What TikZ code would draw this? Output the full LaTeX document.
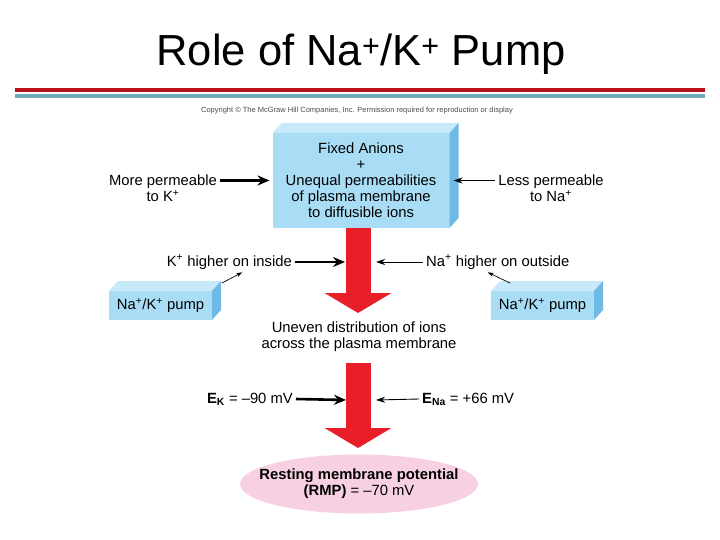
\documentclass[tikz,border=0pt]{standalone}
\usepackage{fontspec}
\setmainfont{Liberation Sans}
\usetikzlibrary{arrows.meta, positioning, calc, shapes.geometric}

\definecolor{boxfront}{RGB}{168,221,245}
\definecolor{boxtop}{RGB}{198,234,250}
\definecolor{boxside}{RGB}{110,186,228}
\definecolor{fatred}{RGB}{232,30,40}
\definecolor{rmppink}{RGB}{247,208,226}
\definecolor{rulered}{RGB}{181,18,27}
\definecolor{ruleteal}{RGB}{111,170,184}

\tikzset{
  txt/.style={font=\fontsize{14.8pt}{16pt}\selectfont, align=center, inner sep=3pt},
  slab/.style={txt, fill=boxfront, outer sep=0pt},
  fat/.style={draw=fatred, line width=25pt, -{Triangle[length=20pt, width=66pt]}},
  thickarr/.style={line width=2.6pt, -{Stealth[length=12pt, width=10pt]}},
  thinarr/.style={line width=0.9pt, -{Stealth[length=9pt, width=6pt]}},
  smallarr/.style={line width=0.7pt, -{Stealth[length=6pt, width=4pt]}}
}

\begin{document}
\begin{tikzpicture}[x=1pt, y=-1pt]
        \path[use as bounding box] (0,0) rectangle (720,540);

        % title and rules
        \node (title) at (361,54) {\fontsize{43.5pt}{44pt}\selectfont Role of Na\textsuperscript{+}/K\textsuperscript{+} Pump};
        \draw[rulered, line width=4pt] (15,90) -- (705,90);
        \draw[ruleteal, line width=4pt] (15,96) -- (705,96);
        \node[font=\fontsize{7.5pt}{8pt}\selectfont, text=gray!60!black] (copy) at (357,111) {Copyright \textcopyright\ The McGraw Hill Companies, Inc. Permission required for reproduction or display};

        % blocks
        \node[slab, minimum width=177pt, minimum height=95pt] (anions) at (361,180.5) {Fixed Anions\\+\\Unequal permeabilities\\of plasma membrane\\to diffusible ions};
        \node[slab, minimum width=103pt, minimum height=29pt] (pumpL) at (160.5,305.5) {Na\textsuperscript{+}/K\textsuperscript{+} pump};
        \node[slab, minimum width=103pt, minimum height=29pt] (pumpR) at (542.5,305.5) {Na\textsuperscript{+}/K\textsuperscript{+} pump};
        \foreach \b in {anions, pumpL, pumpR} {
            \fill[boxtop] (\b.north west) -- ([xshift=9pt, yshift=10pt]\b.north west) -- ([xshift=9pt, yshift=10pt]\b.north east) -- (\b.north east) -- cycle;
            \fill[boxside] (\b.north east) -- ([xshift=9pt, yshift=10pt]\b.north east) -- ([xshift=9pt, yshift=10pt]\b.south east) -- (\b.south east) -- cycle;
        }

        % labels
        \node[txt] (more) at (163,188) {More permeable\\to K\textsuperscript{+}};
        \node[txt] (less) at (551,188) {Less permeable\\to Na\textsuperscript{+}};
        \node[txt, anchor=east] (kin) at (295,262) {K\textsuperscript{+} higher on inside};
        \node[txt, anchor=west] (naout) at (423,262) {Na\textsuperscript{+} higher on outside};
        \node[txt] (uneven) at (359,337) {Uneven distribution of ions\\across the plasma membrane};
        \node[txt, anchor=east] (ek) at (296,399) {\textbf{E\textsubscript{K}} = --90 mV};
        \node[txt, anchor=west] (ena) at (419,399) {\textbf{E\textsubscript{Na}} = +66 mV};
        \node[txt, ellipse, fill=rmppink, minimum width=238pt, minimum height=59pt, inner xsep=-16pt, inner ysep=0pt] (rmp) at (359,484) {\textbf{Resting membrane potential}\\\textbf{(RMP)} = --70 mV};

        % points on the red shafts
        \coordinate (tipA) at (358,313);
        \coordinate (tipB) at (358,448);
        \coordinate (shaftAL) at (345,262);
        \coordinate (shaftAR) at (376,262);
        \coordinate (shaftBL) at (346,400);
        \coordinate (shaftBR) at (376,400);

        % red arrows
        \draw[fat] (anions.south -| tipA) -- (tipA);
        \draw[fat] ([yshift=-8pt]uneven.south -| tipB) -- (tipB);

        % side arrows
        \draw[thickarr] (more.east |- anions.west) -- ([xshift=-3pt]anions.west);
        \draw[thinarr] (less.west |- anions.east) -- ([xshift=4pt]anions.east);
        \draw[thickarr] (kin.east) -- (shaftAL);
        \draw[thinarr] (naout.west) -- (shaftAR);
        \draw[thickarr] (ek.east) -- (shaftBL);
        \draw[thinarr] (ena.west) -- (shaftBR);
        \draw[smallarr] ([xshift=10pt, yshift=8pt]pumpL.north east) -- ([xshift=13pt]kin.south);
        \draw[smallarr] ([xshift=19pt, yshift=8pt]pumpR.north west) -- ([xshift=-10pt]naout.south);
\end{tikzpicture}
\end{document}
